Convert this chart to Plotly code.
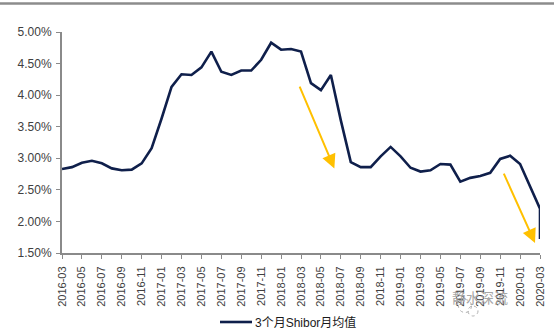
import plotly.graph_objects as go

# ---- data ----
months = [f"{y}-{m:02d}" for y in range(2016, 2021) for m in range(1, 13)]
months = months[months.index("2016-03"):months.index("2020-03") + 1]
x_vals = months + ["2020-03"]  # last month has a second (latest) reading
shibor_3m = [2.83, 2.86, 2.93, 2.96, 2.92, 2.84, 2.81, 2.82, 2.92, 3.16,
             3.63, 4.13, 4.33, 4.32, 4.44, 4.69, 4.37, 4.32, 4.39, 4.39,
             4.56, 4.83, 4.72, 4.73, 4.69, 4.19, 4.08, 4.32, 3.60, 2.94,
             2.86, 2.86, 3.03, 3.18, 3.03, 2.85, 2.79, 2.81, 2.91, 2.90,
             2.63, 2.69, 2.72, 2.77, 2.99, 3.04, 2.91, 2.55, 2.20, 1.72]
series_name = "3个月Shibor月均值"
y_ticks = [1.5, 2.0, 2.5, 3.0, 3.5, 4.0, 4.5, 5.0]
y_ticktext = [f"{v:.2f}%" for v in y_ticks]
x_ticks = months[::2]

W, H = 554, 333
L, R, T, B = 62, 14, 32, 80
PW, PH = W - L - R, H - T - B


def px(xp, yp):
    return (xp - L) / PW, (H - B - yp) / PH


FONT = "Liberation Sans, Arial, Noto Sans CJK SC, sans-serif"
AXIS = "#8a8a8a"
LINE = "#0f1f4b"

fig = go.Figure()
fig.add_trace(go.Scatter(x=x_vals, y=shibor_3m, mode="lines", name=series_name,
                         line=dict(color=LINE, width=2.6), showlegend=False))

fig.update_layout(
    width=W, height=H, margin=dict(l=L, r=R, t=T, b=B, autoexpand=False),
    plot_bgcolor="white", paper_bgcolor="white",
    font=dict(family=FONT, color="#404040"),
    showlegend=False,
)
fig.update_xaxes(type="category", categoryorder="array", categoryarray=months,
                 range=[0, len(months) - 1], tickmode="array", tickvals=x_ticks,
                 ticktext=x_ticks, tickangle=-90, tickfont=dict(size=11, color="#404040"),
                 showline=True, linecolor=AXIS, linewidth=2, ticks="outside",
                 ticklen=4, tickcolor=AXIS, showgrid=False, zeroline=False,
                 ticklabelstandoff=3, automargin=False)
fig.update_yaxes(range=[1.5, 5.0], tickmode="array", tickvals=y_ticks, ticktext=y_ticktext,
                 tickfont=dict(size=12, color="#404040"), showline=True, linecolor=AXIS,
                 linewidth=2, ticks="outside", ticklen=4, tickcolor=AXIS,
                 showgrid=False, zeroline=False, ticklabelstandoff=2, automargin=False)

# top grey rule
x0, y0 = px(0, 3.5)
x1, _ = px(W, 3.5)
fig.add_shape(type="line", xref="paper", yref="paper", x0=x0, x1=x1, y0=y0, y1=y0,
              line=dict(color="#8c8c8c", width=2.5))

# legend (drawn manually so it does not push the margins)
lx0, ly = px(220, 322)
lx1, _ = px(252, 322)
fig.add_shape(type="line", xref="paper", yref="paper", x0=lx0, x1=lx1, y0=ly, y1=ly,
              line=dict(color=LINE, width=2.6))
tx, _ = px(253, 322)
fig.add_annotation(x=tx, y=ly, xref="paper", yref="paper", text=series_name, showarrow=False,
                   xanchor="left", yanchor="middle",
                   font=dict(size=12, color="#1a1a1a", family=FONT))

# yellow arrows (tail -> head, in data coordinates: category index, value)
arrows = [((23.8, 4.16), (27.35, 2.84)), ((44.3, 2.78), (47.5, 1.66))]
for (tx_, ty_), (hx, hy) in arrows:
    fig.add_annotation(x=hx, y=hy, ax=tx_, ay=ty_, xref="x", yref="y", axref="x", ayref="y",
                       showarrow=True, arrowhead=2, arrowsize=1.4, arrowwidth=2,
                       arrowcolor="#FFC000", text="")

# watermark
for cx, cy, r in [(465, 306, 6.5), (473, 311, 5)]:
    ax0, ay0 = px(cx - r, cy + r)
    ax1, ay1 = px(cx + r, cy - r)
    fig.add_shape(type="circle", xref="paper", yref="paper", x0=ax0, x1=ax1, y0=ay0, y1=ay1,
                  line=dict(color="#b0b0b0", width=1, dash="dot"), fillcolor="rgba(0,0,0,0)")
wx, wy = px(510, 309)
fig.add_annotation(x=wx, y=wy, xref="paper", yref="paper", text="静水深流", showarrow=False,
                   font=dict(size=14, color="#a6a6a6", family="Noto Sans CJK SC"))

fig.write_html("out.html")
